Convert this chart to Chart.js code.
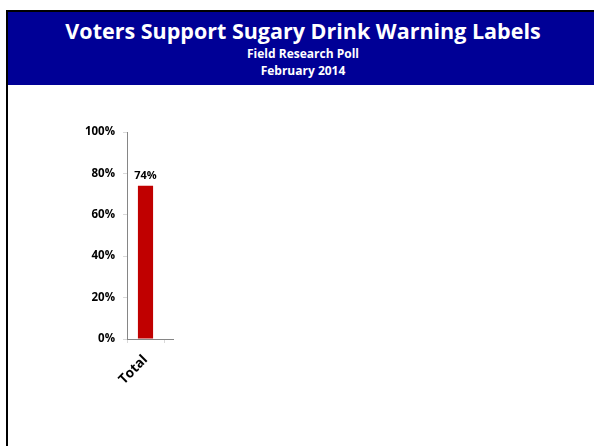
<!DOCTYPE html>
<html>
<head>
<meta charset="utf-8">
<script src="https://cdn.jsdelivr.net/npm/chart.js@4/dist/chart.umd.min.js"></script>
<style>
  html, body { margin: 0; padding: 0; background: #fff; overflow: hidden; }
  body { width: 594px; height: 446px; position: relative; font-family: "Open Sans", sans-serif; }
  .frame {
    position: absolute; left: 6px; top: 10px; width: 600px; height: 450px;
    border-left: 2px solid #000; border-top: 2px solid #000; box-sizing: border-box;
  }
  .header {
    position: absolute; left: 8px; top: 12px; width: 590px; height: 73px;
    background: #000096; color: #fff; text-align: center; font-weight: 700;
  }
  .header .title { font-size: 21.5px; line-height: 28px; margin-top: 5px; }
  .header .sub { font-size: 12px; line-height: 17px; }
  #wrap { position: absolute; left: 0; top: 0; width: 594px; height: 446px; }
</style>
</head>
<body>
<div class="frame"></div>
<div class="header">
  <div class="title">Voters Support Sugary Drink Warning Labels</div>
  <div class="sub" style="margin-top:0px">Field Research Poll</div>
  <div class="sub" style="margin-top:0px">February 2014</div>
</div>
<div id="wrap"><canvas id="chart" width="594" height="446"></canvas></div>
<script>
const categories = ['Total'];
const supportShare = [0.74];
const yTickValues = [0, 0.2, 0.4, 0.6, 0.8, 1.0];

const pct = v => Math.round(v * 100) + '%';

// value labels above each bar
const barLabels = {
  id: 'barLabels',
  afterDatasetsDraw(chart) {
    const { ctx } = chart;
    chart.getDatasetMeta(0).data.forEach((bar, i) => {
      ctx.save();
      ctx.font = 'bold 11px "Open Sans"';
      ctx.fillStyle = '#000';
      ctx.textAlign = 'center';
      ctx.textBaseline = 'bottom';
      ctx.fillText(pct(supportShare[i]), bar.x, bar.y - 4);
      ctx.restore();
    });
  }
};

// the category axis line runs a little past the last tick
const axisTail = {
  id: 'axisTail',
  afterDraw(chart) {
    const { ctx, chartArea } = chart;
    ctx.save();
    ctx.strokeStyle = '#868686';
    ctx.lineWidth = 1;
    ctx.beginPath();
    ctx.moveTo(chartArea.right, chartArea.bottom + 0.5);
    ctx.lineTo(chartArea.right + 10, chartArea.bottom + 0.5);
    ctx.stroke();
    ctx.restore();
  }
};

new Chart(document.getElementById('chart'), {
  type: 'bar',
  data: {
    labels: categories,
    datasets: [{
      data: supportShare,
      backgroundColor: '#C00000',
      borderWidth: 0,
      barPercentage: 0.41,
      categoryPercentage: 1,
    }]
  },
  options: {
    responsive: false,
    animation: false,
    layout: { padding: { left: 0, top: 132, right: 430, bottom: 0 } },
    plugins: { legend: { display: false }, tooltip: { enabled: false } },
    scales: {
      y: {
        min: 0,
        max: 1,
        afterFit(scale) { scale.width = 127; },
        afterBuildTicks(scale) { scale.ticks = yTickValues.map(v => ({ value: v })); },
        ticks: {
          callback: v => pct(v),
          font: { family: '"Open Sans"', size: 11.5, weight: 'bold' },
          color: '#000',
          padding: 8,
        },
        grid: { drawOnChartArea: false, tickLength: 4, color: '#d9d9d9' },
        border: { color: '#868686', width: 1 },
      },
      x: {
        afterFit(scale) { scale.height = 107; },
        ticks: {
          font: { family: '"Open Sans"', size: 13.5, weight: 'bold' },
          color: '#000',
          minRotation: 45,
          maxRotation: 45,
          autoSkip: false,
          padding: 9,
        },
        grid: { offset: true, drawOnChartArea: false, tickLength: 4, color: '#d9d9d9' },
        border: { color: '#868686', width: 1 },
      }
    }
  },
  plugins: [barLabels, axisTail]
});
</script>
</body>
</html>
